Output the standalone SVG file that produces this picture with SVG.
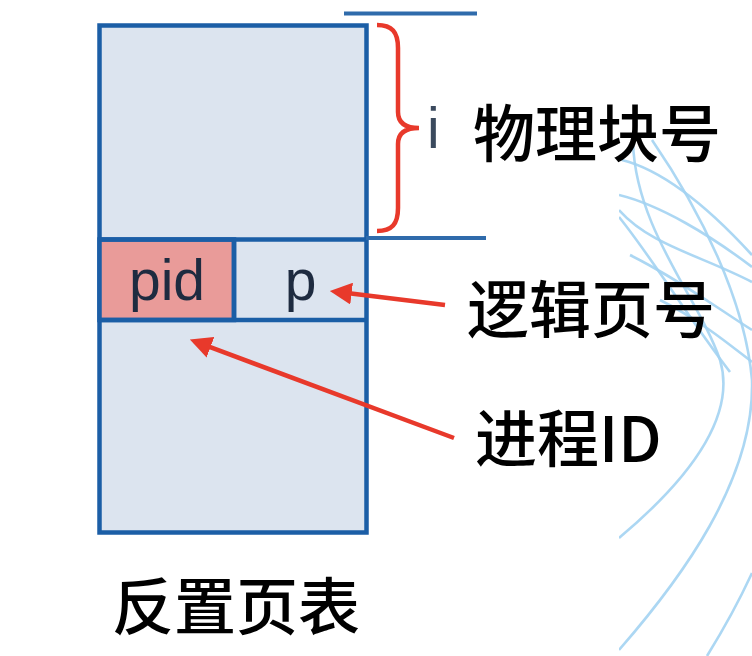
<svg xmlns="http://www.w3.org/2000/svg" width="752" height="656" viewBox="0 0 752 656">
<style>
.box{fill:#DCE4EF;stroke:#1B5EA6;stroke-width:4.5}
.pidc{fill:#E99B99;stroke:#1B5EA6;stroke-width:4.5}
.ln{stroke:#1B5EA6;stroke-width:4.5;fill:none}
.tick{stroke:#2F6BAB;stroke-width:4;fill:none}
.lat{font-family:"Liberation Sans","DejaVu Sans",sans-serif;font-size:57px;fill:#1E2B40}
.cjk{font-family:"Noto Sans CJK SC","Noto Sans",sans-serif;font-size:62px;font-weight:500;fill:#000}
.red{stroke:#E8392B;stroke-width:4.5;fill:none}
.sw{stroke:#A3D3F2;stroke-width:2.6;fill:none;opacity:0.9}
</style>
<defs>
<marker id="ah" viewBox="0 0 20 20" refX="8" refY="10" markerWidth="22" markerHeight="22" markerUnits="userSpaceOnUse" orient="auto">
<path d="M0,0 L20,10 L0,20 z" fill="#E8392B"/>
</marker>
<clipPath id="swclip"><rect x="619" y="130" width="133" height="526"/></clipPath>
</defs>
<g id="decor" clip-path="url(#swclip)">
<path class="sw" d="M633,143 C636,230 700,300 720,360 C735,410 700,470 619,538"/>
<path class="sw" d="M652,140 C700,210 745,300 752,380 C755,480 680,580 619,650"/>
<path class="sw" d="M752,573 C735,610 720,635 707,656"/>
<path class="sw" d="M622,160 C670,172 720,220 752,255"/>
<path class="sw" d="M619,195 C660,205 710,235 752,267"/>
<path class="sw" d="M619,210 C650,245 700,255 752,282"/>
<path class="sw" d="M619,217 C650,255 690,320 730,372"/>
<path class="sw" d="M630,255 C680,280 720,310 752,330"/>
<path class="sw" d="M660,300 C700,320 730,345 752,362"/>
</g>
<g id="table">
<rect class="box" x="99.5" y="25.5" width="267" height="507"/>
<rect class="pidc" x="99.5" y="239.5" width="134.5" height="80.5"/>
<path class="ln" d="M99.5,239.5 H366.5 M99.5,320 H366.5 M234,239.5 V320"/>
<text class="lat" x="167" y="300" text-anchor="middle">pid</text>
<text class="lat" x="300.5" y="300" text-anchor="middle">p</text>
</g>
<g id="marks">
<line class="tick" x1="344" y1="13.5" x2="477" y2="13.5"/>
<line class="tick" x1="366" y1="238" x2="486" y2="238"/>
<path id="brace" class="red" d="M377,25 C392,25 398,32 398,48 L398,112 C398,123 406,128 419,128 C406,128 398,133 398,144 L398,208 C398,224 392,231 377,231"/>
<text class="lat" x="427" y="148" style="fill:#3B4A5E">i</text>
</g>
<g id="label-physical"><text class="cjk" x="473" y="157">物理块号</text></g>
<g id="label-logical"><text class="cjk" x="467" y="333">逻辑页号</text></g>
<g id="label-pid"><text class="cjk" x="475" y="462">进程ID</text></g>
<g id="label-title"><text class="cjk" x="112" y="630">反置页表</text></g>
<g id="connectors">
<line class="red" x1="445" y1="305" x2="342.9" y2="292.5" marker-end="url(#ah)"/>
<line class="red" x1="454" y1="438" x2="202.2" y2="344.2" marker-end="url(#ah)"/>
</g>
</svg>
